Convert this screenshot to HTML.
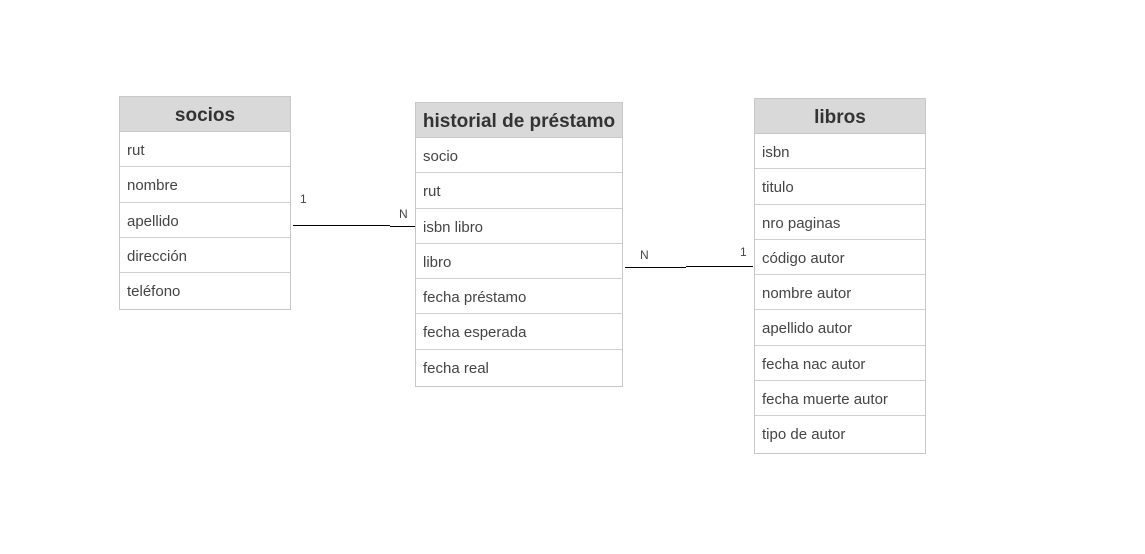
<!DOCTYPE html>
<html><head><meta charset="utf-8"><style>
body{margin:0;width:1145px;height:554px;background:#fff;position:relative;overflow:hidden;font-family:"Liberation Sans",Arial,sans-serif}
.t{position:absolute;border:1px solid #c8c8c8;box-sizing:border-box}
.h{height:35px;background:#d9d9d9;border-bottom:1px solid #c8c8c8;box-sizing:border-box;text-align:center;font-weight:bold;font-size:19px;color:#333;line-height:37px}
.r{height:35.3px;border-bottom:1px solid #d0d0d0;box-sizing:border-box;font-size:15px;color:#444;line-height:37px;padding-left:7px}
.r:last-child{border-bottom:none}
.l{position:absolute;height:1px;background:#000}
.lb{position:absolute;font-size:12px;color:#444}
</style></head><body>
<div class="t" style="left:119px;top:96px;width:172px;height:214px">
<div class="h">socios</div>
<div class="r">rut</div><div class="r">nombre</div><div class="r">apellido</div><div class="r">dirección</div><div class="r">teléfono</div>
</div>
<div class="t" style="left:415px;top:102px;width:208px;height:285px">
<div class="h">historial de préstamo</div>
<div class="r">socio</div><div class="r">rut</div><div class="r">isbn libro</div><div class="r">libro</div><div class="r">fecha préstamo</div><div class="r">fecha esperada</div><div class="r">fecha real</div>
</div>
<div class="t" style="left:754px;top:98px;width:172px;height:356px">
<div class="h">libros</div>
<div class="r">isbn</div><div class="r">titulo</div><div class="r">nro paginas</div><div class="r">código autor</div><div class="r">nombre autor</div><div class="r">apellido autor</div><div class="r">fecha nac autor</div><div class="r">fecha muerte autor</div><div class="r">tipo de autor</div>
</div>
<div class="l" style="left:293px;top:225px;width:97px"></div>
<div class="l" style="left:390px;top:226px;width:25px"></div>
<div class="l" style="left:625px;top:267px;width:61px"></div>
<div class="l" style="left:686px;top:266px;width:67px"></div>
<div class="lb" style="left:300px;top:192px">1</div>
<div class="lb" style="left:399px;top:207px">N</div>
<div class="lb" style="left:640px;top:248px">N</div>
<div class="lb" style="left:740px;top:245px">1</div>
</body></html>
